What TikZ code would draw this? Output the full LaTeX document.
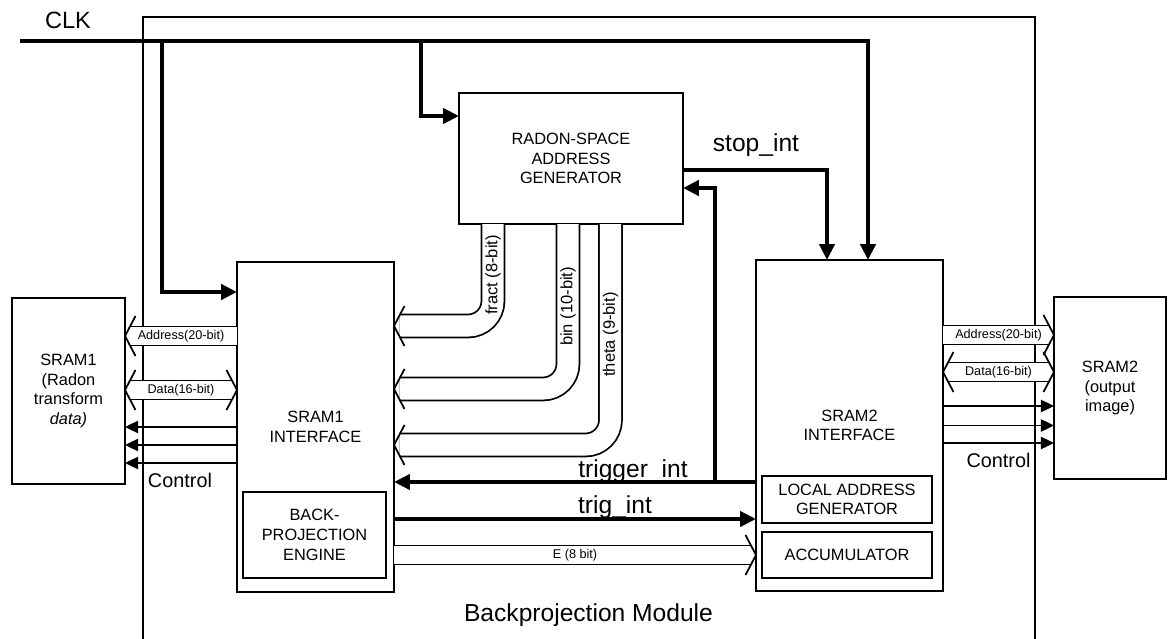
\documentclass[tikz,border=0pt]{standalone}
\usepackage{fontspec}
\setmainfont{Liberation Sans}
\usetikzlibrary{arrows.meta,calc}

\begin{document}
\begin{tikzpicture}[x=0.2mm, y=-0.2mm,
  blk/.style={draw, line width=1.1pt, inner sep=0pt, outer sep=0pt, align=center,
              font=\fontsize{9.3}{11.2}\selectfont},
  sig/.style={line width=2.4pt, -{Triangle[length=9pt, width=8.5pt]}},
  ctl/.style={line width=1.1pt, -{Triangle[length=7.5pt, width=7pt]}},
  bus/.style={double, double distance=9.8pt, line width=1pt, shorten >=1.1mm},
  bus2/.style={bus, shorten <=1.1mm},
  wbus/.style={bus, double distance=12pt, rounded corners=5mm},
  bushd/.pic={\draw[line width=1pt, line join=miter, miter limit=20] (2.1mm,-4mm) -- (0,0) -- (2.1mm,4mm);},
  buslbl/.style={font=\fontsize{7.2}{8}\selectfont, inner sep=0pt},
  vlbl/.style={font=\fontsize{9.4}{11}\selectfont, inner sep=0pt, rotate=90},
  siglbl/.style={font=\fontsize{14}{16}\selectfont, inner sep=0pt}]
  \useasboundingbox (0,0) rectangle (1172,639);
  % module frame and blocks
  \node[blk, line width=1pt, minimum width=178.4mm, minimum height=128.6mm] (mod) at (589,338.5) {};
  \node[siglbl] (modlbl) at (588.5,615) {Backprojection Module};
  \node[blk, minimum width=44.8mm, minimum height=26.2mm] (rsag) at (571,158.5) {RADON-SPACE\\ADDRESS\\GENERATOR};
  \node[blk, minimum width=31.4mm, minimum height=66mm] (if1) at (315.5,427) {SRAM1\\INTERFACE};
  \node[blk, minimum width=28.6mm, minimum height=17.2mm] (bpe) at (314.5,535) {BACK-\\PROJECTION\\ENGINE};
  \node[blk, minimum width=37.4mm, minimum height=66.2mm] (if2) at (849.5,425.5) {SRAM2\\INTERFACE};
  \node[blk, minimum width=34mm, minimum height=9.4mm] (lag) at (847,499.5) {LOCAL ADDRESS\\GENERATOR};
  \node[blk, minimum width=34mm, minimum height=9.2mm] (acc) at (847,555) {ACCUMULATOR};
  \node[blk, minimum width=22.6mm, minimum height=37.2mm] (sram1) at (68.5,391) {SRAM1\\(Radon\\transform\\\textit{data)}};
  \node[blk, minimum width=22.4mm, minimum height=36.4mm] (sram2) at (1110,388) {SRAM2\\(output\\image)};

  % clock tree
  \node[siglbl, font=\fontsize{13.4}{15}\selectfont] (clk) at (68,20) {CLK};
  \coordinate (clk0) at (20,41);
  \coordinate (clkA) at (162,41);
  \coordinate (clkB) at (421,41);
  \draw[sig] (clk0) -| ([xshift=3.7mm]if2.north);
  \draw[sig] (clkA) |- ([yshift=-6mm]if1.north west);
  \draw[sig] (clkB) |- ([yshift=-4.6mm]rsag.north west);

  % handshake signals
  \draw[sig] ([yshift=-2.3mm]rsag.east) -| ([xshift=-4.5mm]if2.north);
  \node[siglbl] (stoplbl) at (756,145) {stop\_int};
  \coordinate (trgR) at ([yshift=-11.3mm]if2.west);
  \coordinate (trgT) at (715,482);
  \draw[sig] (trgR) -- (trgR -| if1.east);
  \draw[sig] (trgT) |- ([yshift=-5.9mm]rsag.east);
  \node[siglbl] (trglbl) at (633,471) {trigger\_int};
  \coordinate (tgL) at ([yshift=-18.4mm]if1.east);
  \draw[sig] (tgL) -- (tgL -| if2.west);
  \node[siglbl] (tglbl) at (615,507) {trig\_int};

  % data buses
  \coordinate (eL) at ([yshift=-25.6mm]if1.east);
  \draw[bus] (eL) -- node[buslbl] {E (8 bit)} (eL -| if2.west);
  \pic[rotate=180] at (eL -| if2.west) {bushd};
  \coordinate (frR) at ([yshift=20.2mm]if1.east);
  \coordinate (biR) at ([yshift=7.6mm]if1.east);
  \coordinate (thR) at ([yshift=-3.6mm]if1.east);
  \draw[wbus] ([xshift=-15.6mm]rsag.south) |- node[vlbl, pos=0.25] {fract (8-bit)} (frR);
  \draw[wbus] ([xshift=-0.6mm]rsag.south) |- node[vlbl, pos=0.25] {bin (10-bit)} (biR);
  \draw[wbus] ([xshift=7.9mm]rsag.south) |- node[vlbl, pos=0.25] {theta (9-bit)} (thR);
  \foreach \p in {frR,biR,thR}
    \pic at (\p) {bushd};

  % SRAM1 side
  \coordinate (ad1) at ([yshift=18.2mm]if1.west);
  \draw[bus] (ad1) -- node[buslbl] {Address(20-bit)} (ad1 -| sram1.east);
  \pic at (ad1 -| sram1.east) {bushd};
  \coordinate (da1) at ([yshift=7.4mm]if1.west);
  \draw[bus2] (da1) -- node[buslbl] {Data(16-bit)} (da1 -| sram1.east);
  \pic at (da1 -| sram1.east) {bushd};
  \pic[rotate=180] at (da1) {bushd};
  \foreach \dy in {0,-3.6,-7.2} {
    \coordinate (c1) at ([yshift=\dy mm]if1.west);
    \draw[ctl] (c1) -- (c1 -| sram1.east);
  }
  \node[font=\fontsize{11.3}{13}\selectfont, inner sep=0pt] (ctl1) at (180,480.5) {Control};

  % SRAM2 side
  \coordinate (ad2) at ([yshift=18.1mm]if2.east);
  \draw[bus] (ad2) -- node[buslbl] {Address(20-bit)} (ad2 -| sram2.west);
  \pic[rotate=180] at (ad2 -| sram2.west) {bushd};
  \coordinate (da2) at ([yshift=10.7mm]if2.east);
  \draw[bus2] (da2) -- node[buslbl] {Data(16-bit)} (da2 -| sram2.west);
  \pic[rotate=180] at (da2 -| sram2.west) {bushd};
  \pic at (da2) {bushd};
  \foreach \dy in {3.9,0,-3.5} {
    \coordinate (c2) at ([yshift=\dy mm]if2.east);
    \draw[ctl] (c2) -- (c2 -| sram2.west);
  }
  \node[font=\fontsize{11.3}{13}\selectfont, inner sep=0pt] (ctl2) at (998.5,460.5) {Control};
\end{tikzpicture}
\end{document}
